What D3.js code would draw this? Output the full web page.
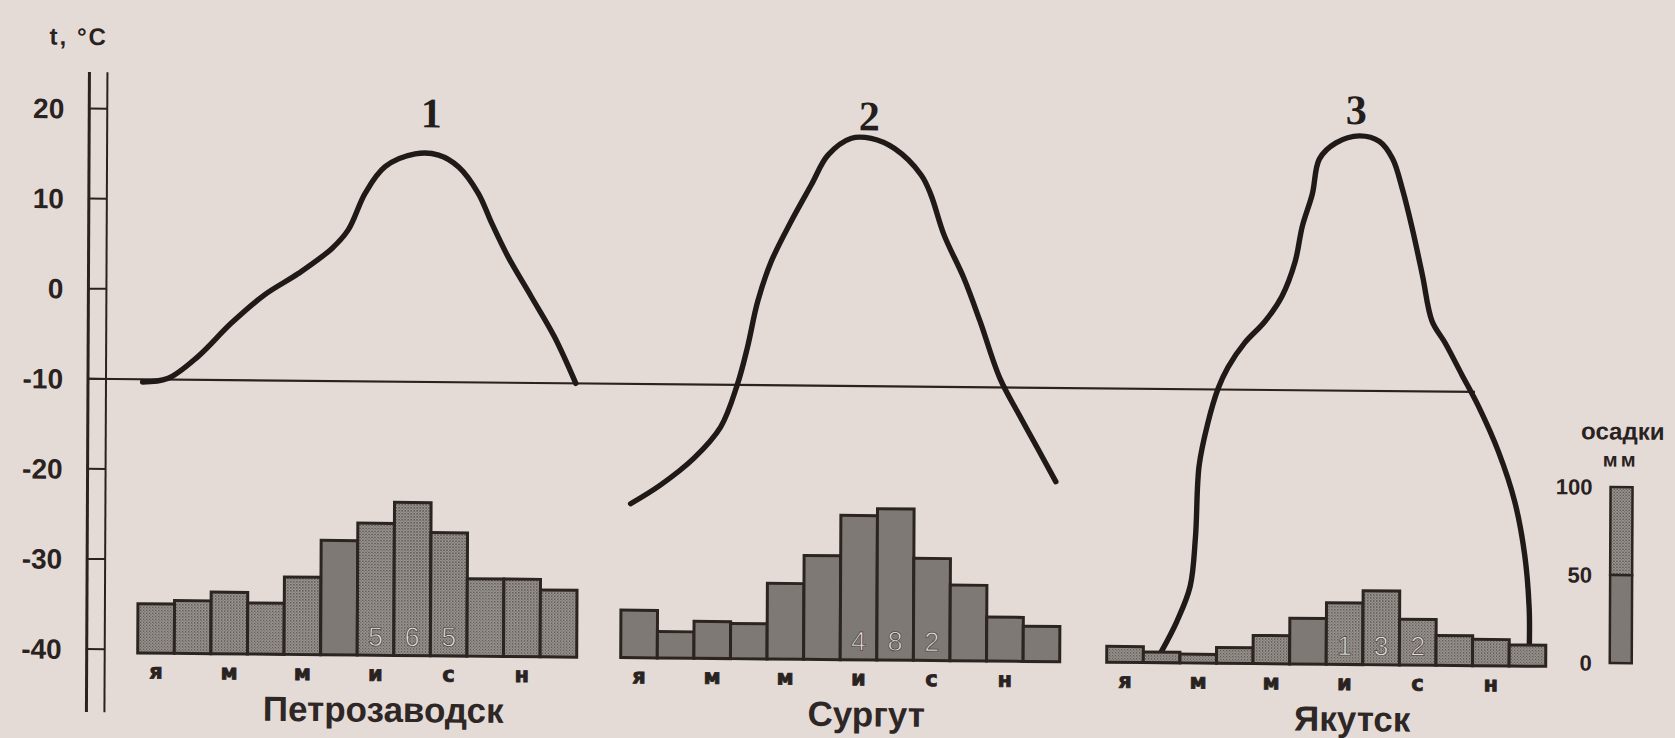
<!DOCTYPE html>
<html><head><meta charset="utf-8">
<script src="https://cdn.jsdelivr.net/npm/d3@7"></script>
<style>
html,body{margin:0;padding:0;background:#e4dbd7;}
svg{display:block;}
</style></head><body>
<svg id="chart" width="1675" height="738"></svg>
<script>
// ---------------- DATA ----------------
const cities = ["Петрозаводск", "Сургут", "Якутск"];
const curveNumbers = ["1", "2", "3"];
const months = [1,2,3,4,5,6,7,8,9,10,11,12];
const monthLabels = ["я", "", "м", "", "м", "", "и", "", "с", "", "н", ""];

// monthly precipitation, mm
const precipPetrozavodsk = [28, 30, 35, 29, 44, 65, 75, 87, 70, 44, 44, 38];
const precipSurgut       = [27, 15, 21, 20, 43, 59, 82, 86, 58, 43, 25, 20];
const precipYakutsk      = [9, 6, 5, 9, 16, 26, 35, 42, 26, 17, 15, 12];
// annual precipitation written inside the July–September bars
const annualPrecip = ["565", "482", "132"];

// temperature curves, read along the year (month position, °C)
const tempMonthsPetrozavodsk = [0.6, 1.28, 2.1, 3.01, 3.92, 4.84, 5.75, 6.2, 6.66, 7.2, 8.02, 8.66, 9.21, 9.75, 10.12, 10.57, 11.21, 11.85, 12.44];
const tempPetrozavodsk       = [-10.3, -9.9, -7.45, -3.7, -0.5, 1.9, 4.7, 6.8, 10.9, 13.85, 15.3, 15.2, 13.9, 11.0, 7.7, 4.0, -0.4, -4.85, -10.0];
const tempMonthsSurgut = [0.75, 1.56, 2.47, 3.2, 3.65, 3.92, 4.2, 4.56, 5.1, 5.65, 6.1, 6.74, 7.28, 7.92, 8.65, 8.92, 9.28, 9.83, 10.28, 10.83, 11.37, 11.92, 12.37];
const tempSurgut       = [-23.3, -21.2, -18.2, -14.7, -10.0, -5.9, -0.7, 3.7, 8.2, 12.3, 15.6, 17.5, 17.5, 16.4, 13.5, 11.3, 6.9, 2.1, -2.7, -9.0, -13.1, -17.1, -20.4];
const tempMonthsYakutsk = [2.0, 2.41, 2.77, 2.91, 3.0, 3.23, 3.51, 3.78, 4.23, 4.78, 5.24, 5.6, 5.79, 6.06, 6.25, 6.7, 7.34, 7.89, 8.25, 8.53, 8.8, 9.08, 9.35, 9.71, 10.17, 10.63, 11.18, 11.63, 11.91, 12.04, 12.05];
const tempYakutsk       = [-39.1, -35.8, -31.9, -26.4, -18.5, -13.8, -9.9, -7.5, -4.8, -2.4, 0.4, 4.3, 8.2, 11.8, 15.7, 17.5, 18.3, 17.7, 15.8, 12.3, 8.0, 2.9, -2.2, -4.6, -8.1, -11.6, -16.6, -22.1, -28.0, -33.9, -38.0];

const tempTicks = [20, 10, 0, -10, -20, -30, -40];
const precipTicks = [100, 50, 0];
const referenceTemp = -10;
const tempAxisTitle = "t, °C";
const precipTitle = ["осадки", "мм"];

// ---------------- LAYOUT / STYLE ----------------
const W = 1675, H = 738;
const ink = "#29221f";
const panelLeft = [139, 622, 1108];
const panelWidth = 439;
const curveLabelPos = [[430, 124], [868, 123], [1355, 112]];
const solidBars = [[5], [0,1,2,3,4,5,6,7,8,9,10,11], [5]];

const svg = d3.select("#chart");
const defs = svg.append("defs");
const pat = defs.append("pattern").attr("id", "stip").attr("width", 3).attr("height", 3)
  .attr("patternUnits", "userSpaceOnUse");
pat.append("rect").attr("width", 3).attr("height", 3).attr("fill", "#9b9591");
pat.append("rect").attr("width", 1.5).attr("height", 1.5).attr("fill", "#635d59");
pat.append("rect").attr("x", 1.5).attr("y", 1.5).attr("width", 1.2).attr("height", 1.2).attr("fill", "#736d69");
const solidFill = "#7f7975";

svg.append("rect").attr("width", W).attr("height", H).attr("fill", "#e4dbd7");

// slight skew of the photographed page
const g = svg.append("g")
  .attr("transform", "translate(88,378) matrix(1,0.0095,-0.0047,1,0,0) translate(-88,-378)");

const yT = d3.scaleLinear().domain([-40, 20]).range([649, 108.5]);
const yP = d3.scaleLinear().domain([0, 100]).range([652.5, 476.5]);
const yLegend = d3.scaleLinear().domain([0, 100]).range([648.5, 472.5]);

// ---- temperature axis (double line) ----
const axL = 88, axR = 106;
g.append("line").attr("x1", axL).attr("x2", axL).attr("y1", 72).attr("y2", 712)
  .attr("stroke", ink).attr("stroke-width", 3);
g.append("line").attr("x1", axR).attr("x2", axR).attr("y1", 72).attr("y2", 712)
  .attr("stroke", ink).attr("stroke-width", 2);
g.selectAll(".tk").data(tempTicks).join("line")
  .attr("x1", axL).attr("x2", axR).attr("y1", d => yT(d)).attr("y2", d => yT(d))
  .attr("stroke", ink).attr("stroke-width", 2);
g.selectAll(".tl").data(tempTicks).join("text")
  .attr("x", 63).attr("y", d => yT(d)).attr("dy", "0.36em")
  .attr("text-anchor", "end")
  .attr("font-family", "'Liberation Sans', Arial, sans-serif").attr("font-weight", "bold")
  .attr("font-size", 28).attr("fill", ink)
  .text(d => d);
g.append("text").attr("x", 48).attr("y", 45)
  .attr("font-family", "'Liberation Sans', Arial, sans-serif").attr("font-weight", "bold")
  .attr("font-size", 24).attr("letter-spacing", 2).attr("fill", ink)
  .text(tempAxisTitle);

// ---- -10 reference line ----
g.append("line").attr("x1", axL).attr("x2", 1475)
  .attr("y1", yT(referenceTemp)).attr("y2", yT(referenceTemp))
  .attr("stroke", ink).attr("stroke-width", 2.2);

const precipAll = [precipPetrozavodsk, precipSurgut, precipYakutsk];
const tempMonthsAll = [tempMonthsPetrozavodsk, tempMonthsSurgut, tempMonthsYakutsk];
const tempAll = [tempPetrozavodsk, tempSurgut, tempYakutsk];

cities.forEach((city, ci) => {
  const x0 = panelLeft[ci];
  const xBand = d3.scaleBand().domain(months).range([x0, x0 + panelWidth]).padding(0);
  const xM = d3.scaleLinear().domain([0.5, 12.5]).range([x0, x0 + panelWidth]);
  const pg = g.append("g");

  // temperature curve
  const pts = tempMonthsAll[ci].map((m, i) => [m, tempAll[ci][i]]);
  const line = d3.line().x(d => xM(d[0])).y(d => yT(d[1])).curve(d3.curveCatmullRom.alpha(0.5));
  pg.append("path").attr("d", line(pts)).attr("fill", "none")
    .attr("stroke", "#1f1917").attr("stroke-width", 5.4)
    .attr("stroke-linecap", "round").attr("stroke-linejoin", "round");

  // precipitation bars
  const data = precipAll[ci];
  pg.selectAll(".bar").data(months).join("rect")
    .attr("x", m => xBand(m)).attr("width", xBand.bandwidth())
    .attr("y", (m, i) => yP(data[i])).attr("height", (m, i) => yP(0) - yP(data[i]))
    .attr("fill", (m, i) => solidBars[ci].includes(i) ? solidFill : "url(#stip)")
    .attr("stroke", "#2b2421").attr("stroke-width", 3);

  // annual total digits in Jul, Aug, Sep bars
  annualPrecip[ci].split("").forEach((dg, k) => {
    pg.append("text").attr("x", xBand(7 + k) + xBand.bandwidth() / 2).attr("y", 643)
      .attr("text-anchor", "middle")
      .attr("font-family", "'Liberation Sans', Arial, sans-serif")
      .attr("font-size", 27).attr("fill", "#e2dcd7")
      .attr("stroke", "#4e4844").attr("stroke-width", 0.8)
      .text(dg);
  });

  // month letters
  pg.selectAll(".ml").data(months.filter((m, i) => monthLabels[i])).join("text")
    .attr("x", m => xBand(m) + xBand.bandwidth() / 2).attr("y", 678)
    .attr("text-anchor", "middle")
    .attr("font-family", "'DejaVu Sans', sans-serif").attr("font-weight", "bold")
    .attr("font-size", 21).attr("fill", ink)
    .attr("stroke", ink).attr("stroke-width", 0.8)
    .text(m => monthLabels[m - 1]);

  // city name
  pg.append("text").attr("x", x0 + panelWidth * 0.56).attr("y", 719)
    .attr("text-anchor", "middle")
    .attr("font-family", "'Liberation Sans', Arial, sans-serif").attr("font-weight", "bold")
    .attr("font-size", 35).attr("fill", "#2e2725")
    .text(city);

  // curve number
  pg.append("text").attr("x", curveLabelPos[ci][0]).attr("y", curveLabelPos[ci][1])
    .attr("text-anchor", "middle")
    .attr("font-family", "'Liberation Serif', 'DejaVu Serif', serif").attr("font-weight", "bold")
    .attr("font-size", 42).attr("fill", "#231d1b")
    .text(curveNumbers[ci]);
});

// ---- precipitation legend ----
const lx = 1611, lw = 22;
g.append("rect").attr("x", lx).attr("width", lw)
  .attr("y", yLegend(100)).attr("height", yLegend(50) - yLegend(100))
  .attr("fill", "url(#stip)").attr("stroke", "#2b2421").attr("stroke-width", 2.5);
g.append("rect").attr("x", lx).attr("width", lw)
  .attr("y", yLegend(50)).attr("height", yLegend(0) - yLegend(50))
  .attr("fill", solidFill).attr("stroke", "#2b2421").attr("stroke-width", 2.5);
g.selectAll(".pl").data(precipTicks).join("text")
  .attr("x", 1593).attr("y", d => yLegend(d)).attr("dy", "0.36em")
  .attr("text-anchor", "end")
  .attr("font-family", "'Liberation Sans', Arial, sans-serif").attr("font-weight", "bold")
  .attr("font-size", 22).attr("fill", ink)
  .text(d => d);
g.append("text").attr("x", 1623).attr("y", 425).attr("text-anchor", "middle")
  .attr("font-family", "'Liberation Sans', Arial, sans-serif").attr("font-weight", "bold")
  .attr("font-size", 24).attr("fill", ink).text(precipTitle[0]);
g.append("text").attr("x", 1621).attr("y", 452).attr("text-anchor", "middle")
  .attr("font-family", "'Liberation Sans', Arial, sans-serif").attr("font-weight", "bold")
  .attr("font-size", 20).attr("letter-spacing", 3).attr("fill", ink).text(precipTitle[1]);
</script>
</body></html>
